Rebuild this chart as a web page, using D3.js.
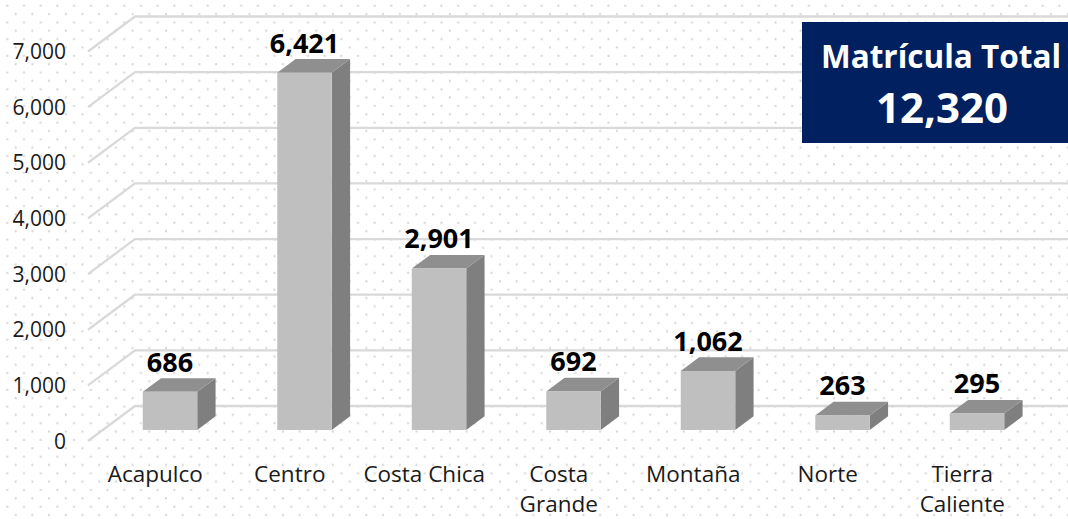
<!DOCTYPE html>
<html><head><meta charset="utf-8">
<script src="https://cdn.jsdelivr.net/npm/d3@7"></script>
<style>html,body{margin:0;padding:0;background:#fff;}svg{display:block;}</style>
</head><body>
<svg id="chart" width="1068" height="519"></svg>
<script>
const categories = ["Acapulco","Centro","Costa Chica","Costa Grande","Montaña","Norte","Tierra Caliente"];
const values = [686, 6421, 2901, 692, 1062, 263, 295];
const tickValues = [0,1000,2000,3000,4000,5000,6000,7000];
const totalTitle = "Matrícula Total";
const totalValue = 12320;

const W = 1068, H = 519;
const svg = d3.select("#chart");
const font = "'Open Sans', 'Noto Sans', sans-serif";
const fmt = d3.format(",");

// background dotted pattern
const defs = svg.append("defs");
const pat = defs.append("pattern").attr("id","dots").attr("patternUnits","userSpaceOnUse")
  .attr("width",16.7).attr("height",16.7);
pat.append("rect").attr("x",6.3).attr("y",4.7).attr("width",2).attr("height",2).attr("fill","#d4d4d4");
pat.append("rect").attr("x",14.65).attr("y",13.05).attr("width",2).attr("height",2).attr("fill","#d4d4d4");
svg.append("rect").attr("width",W).attr("height",H).attr("fill","#fff");
svg.append("rect").attr("width",W).attr("height",H).attr("fill","url(#dots)");

// scales
const x = d3.scaleBand().domain(categories).range([88, 88 + 7*134.5]).padding(0);
const y = d3.scaleLinear().domain([0,7000]).range([441, 51.5]);
const depthX = d3.scaleLinear().domain([0,1]).range([0,47]);
const depthY = d3.scaleLinear().domain([0,1]).range([0,-35]);
const P = (px, v, d) => [px + depthX(d), y(v) + depthY(d)];

// gridlines: diagonal on left wall + horizontal on back wall
const grid = svg.append("g").attr("stroke","#d9d9d9").attr("stroke-width",2.3).attr("fill","none");
tickValues.forEach(v => {
  const a = P(x.range()[0], v, 0), b = P(x.range()[0], v, 1);
  grid.append("path").attr("d", `M${a[0]},${a[1]}L${b[0]},${b[1]}L${W+20},${b[1]}`);
});

// y tick labels
svg.append("g").selectAll("text").data(tickValues).join("text")
  .attr("x",66).attr("y",d=>y(d)).attr("dy","0.36em")
  .attr("text-anchor","end").attr("font-family",font).attr("font-size",21).attr("fill","#1a1a1a")
  .text(d=>fmt(d));

// bars
const barFrac = 0.405, d0 = 0.314, d1 = 0.704;
const bars = svg.append("g");
const labels = svg.append("g");
categories.forEach((c,i) => {
  const v = values[i];
  const bw = x.bandwidth()*barFrac;
  const xl = x(c) + (x.bandwidth()-bw)/2, xr = xl + bw;
  const fbl = P(xl,0,d0), ftl = P(xl,v,d0), ftr = P(xr,v,d0), fbr = P(xr,0,d0);
  const btl = P(xl,v,d1), btr = P(xr,v,d1), bbr = P(xr,0,d1);
  const poly = pts => "M" + pts.map(p=>p.join(",")).join("L") + "Z";
  bars.append("path").attr("d", poly([ftr,fbr,bbr,btr])).attr("fill","#7f7f7f");
  bars.append("path").attr("d", poly([ftl,ftr,btr,btl])).attr("fill","#8f8f8f");
  bars.append("path").attr("d", poly([fbl,ftl,ftr,fbr])).attr("fill","#bfbfbf");
  // value label centred over the front face
  labels.append("text").attr("x",(ftl[0]+ftr[0])/2).attr("y",btl[1]-6.5)
    .attr("text-anchor","middle").attr("font-family",font).attr("font-weight","bold")
    .attr("font-size",27).attr("fill","#000").text(fmt(v));
});

// category labels with wrapping
const catG = svg.append("g");
categories.forEach(c => {
  const cx = x(c) + x.bandwidth()/2;
  const t = catG.append("text").attr("x",cx).attr("y",482).attr("text-anchor","middle")
    .attr("font-family",font).attr("font-size",22.5).attr("fill","#1a1a1a").text(c);
  if (t.node().getComputedTextLength() > x.bandwidth()-4 && c.includes(" ")) {
    const words = c.split(" ");
    t.text(null);
    words.forEach((w,k) => t.append("tspan").attr("x",cx).attr("dy", k===0?0:30).text(w));
  }
});

// total box
const box = svg.append("g");
box.append("rect").attr("x",802).attr("y",22).attr("width",290).attr("height",121).attr("fill","#002060");
box.append("text").attr("x",941).attr("y",68).attr("text-anchor","middle").attr("font-family",font)
  .attr("font-weight","bold").attr("font-size",31.5).attr("fill","#fff").text(totalTitle);
box.append("text").attr("x",942).attr("y",123).attr("text-anchor","middle").attr("font-family",font)
  .attr("font-weight","bold").attr("font-size",42).attr("fill","#fff").text(fmt(totalValue));
</script>
</body></html>
